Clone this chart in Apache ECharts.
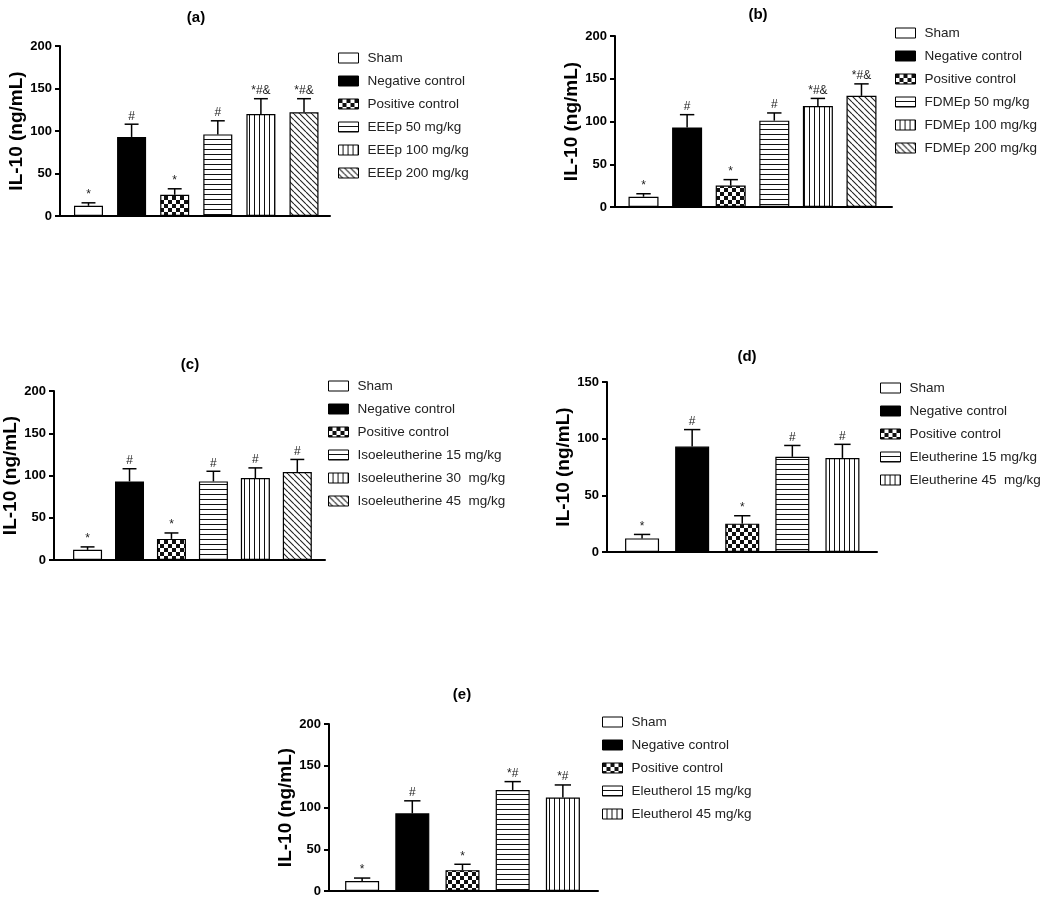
<!DOCTYPE html>
<html style="height: 100%">
<head>
    <meta charset="UTF-8">
    <title>IL-10</title>
    <script src="https://cdn.jsdelivr.net/npm/echarts@6/dist/echarts.min.js"></script>
</head>
<body style="height: 100%; margin: 0; background: #fff">
    <div id="main" style="width: 1052px; height: 898px"></div>
    <script type="text/javascript">
        // data per panel
        const groupsA = ['Sham', 'Negative control', 'Positive control', 'EEEp 50 mg/kg', 'EEEp 100 mg/kg', 'EEEp 200 mg/kg'];
        const valuesA = [12, 93, 25, 96, 120, 122];
        const errorsA = [3.5, 15, 7, 16, 18, 16];
        const marksA = ['*', '#', '*', '#', '*#&', '*#&'];

        const groupsB = ['Sham', 'Negative control', 'Positive control', 'FDMEp 50 mg/kg', 'FDMEp 100 mg/kg', 'FDMEp 200 mg/kg'];
        const valuesB = [12, 93, 25, 101, 118, 130];
        const errorsB = [3.5, 15, 7, 9, 9, 14];
        const marksB = ['*', '#', '*', '#', '*#&', '*#&'];

        const groupsC = ['Sham', 'Negative control', 'Positive control', 'Isoeleutherine 15 mg/kg', 'Isoeleutherine 30  mg/kg', 'Isoeleutherine 45  mg/kg'];
        const valuesC = [12, 93, 25, 93, 97, 104];
        const errorsC = [3.5, 15, 7, 12, 12, 15];
        const marksC = ['*', '#', '*', '#', '#', '#'];

        const groupsD = ['Sham', 'Negative control', 'Positive control', 'Eleutherine 15 mg/kg', 'Eleutherine 45  mg/kg'];
        const valuesD = [12, 93, 25, 84, 83];
        const errorsD = [3.5, 15, 7, 10, 12];
        const marksD = ['*', '#', '*', '#', '#'];

        const groupsE = ['Sham', 'Negative control', 'Positive control', 'Eleutherol 15 mg/kg', 'Eleutherol 45 mg/kg'];
        const valuesE = [12, 93, 25, 121, 112];
        const errorsE = [3.5, 15, 7, 10, 15];
        const marksE = ['*', '#', '*', '*#', '*#'];

        const yMaxes = [200, 200, 200, 150, 200];
        const panelTitles = ['(a)', '(b)', '(c)', '(d)', '(e)'];

        // fill patterns, in group order
        function makePattern(kind) {
            if (kind === 'white') return '#fff';
            if (kind === 'black') return '#000';
            const s = kind === 'checker' ? 8 : (kind === 'diag' ? 6 : 5);
            const c = document.createElement('canvas');
            c.width = s; c.height = s;
            const g = c.getContext('2d');
            g.fillStyle = '#fff';
            g.fillRect(0, 0, s, s);
            g.fillStyle = '#111';
            g.strokeStyle = '#222';
            if (kind === 'checker') {
                g.fillRect(0, 0, 4, 4);
                g.fillRect(4, 4, 4, 4);
            } else if (kind === 'hlines') {
                g.fillRect(0, 4, s, 1);
            } else if (kind === 'vlines') {
                g.fillRect(4, 0, 1, s);
            } else if (kind === 'diag') {
                g.lineWidth = 1.1;
                g.beginPath();
                for (let k = -s; k <= s; k += s) {
                    g.moveTo(k, 0);
                    g.lineTo(k + s, s);
                }
                g.stroke();
            }
            return { image: c, repeat: 'repeat' };
        }
        const fills = ['white', 'black', 'checker', 'hlines', 'vlines', 'diag'].map(makePattern);

        // layout of each panel (pixels)
        const layouts = [
            { grid: { left: 60, top: 46, width: 270, height: 170 }, xr: [-0.661, 5.603], bw: 29, legend: [338, 51], title: [196, 18] },
            { grid: { left: 615, top: 36, width: 277, height: 171 }, xr: [-0.654, 5.70], bw: 30, legend: [895, 26], title: [758, 15] },
            { grid: { left: 47, top: 391, width: 278, height: 169 }, xr: [-0.80, 5.66], bw: 29, legend: [328, 379], title: [190, 365] },
            { grid: { left: 607, top: 382, width: 270, height: 170 }, xr: [-0.70, 4.69], bw: 34, legend: [880, 381], title: [747, 357] },
            { grid: { left: 329, top: 724, width: 269, height: 167 }, xr: [-0.66, 4.70], bw: 34, legend: [602, 715], title: [462, 695] }
        ];

        const panels = [
            [groupsA, valuesA, errorsA, marksA],
            [groupsB, valuesB, errorsB, marksB],
            [groupsC, valuesC, errorsC, marksC],
            [groupsD, valuesD, errorsD, marksD],
            [groupsE, valuesE, errorsE, marksE]
        ];

        const FONT = 'Liberation Sans, Arial, sans-serif';
        const grid = [], xAxis = [], yAxis = [], legend = [], series = [], graphic = [];

        panels.forEach(function (p, k) {
            const groups = p[0], values = p[1], errors = p[2], marks = p[3];
            const L = layouts[k];
            grid.push(Object.assign({ containLabel: false }, L.grid));
            xAxis.push({
                type: 'value', gridIndex: k, min: L.xr[0], max: L.xr[1],
                axisLine: { show: true, lineStyle: { color: '#000', width: 2 } },
                axisTick: { show: false }, axisLabel: { show: false }, splitLine: { show: false }
            });
            yAxis.push({
                type: 'value', gridIndex: k, min: 0, max: yMaxes[k], interval: 50,
                name: 'IL-10 (ng/mL)', nameLocation: 'middle', nameGap: 34,
                nameTextStyle: { fontFamily: FONT, fontWeight: 'bold', fontSize: 19, color: '#000' },
                axisLine: { show: true, onZero: false, lineStyle: { color: '#000', width: 2 } },
                axisTick: { show: true, length: 5, lineStyle: { color: '#000', width: 2 } },
                axisLabel: { fontFamily: FONT, fontWeight: 'bold', fontSize: 13, color: '#000', margin: 8 },
                splitLine: { show: false }
            });
            legend.push({
                orient: 'vertical', left: L.legend[0], top: L.legend[1], padding: 0,
                itemWidth: 20, itemHeight: 10, itemGap: 9, icon: 'rect',
                selectedMode: false,
                itemStyle: { borderWidth: 1 },
                textStyle: { fontFamily: FONT, fontSize: 13.5, color: '#222', padding: [0, 0, 0, 4] },
                data: groups
            });
            groups.forEach(function (name, i) {
                series.push({
                    type: 'bar', name: name, xAxisIndex: k, yAxisIndex: k,
                    barWidth: L.bw, barGap: '-100%',
                    itemStyle: { color: fills[i], borderColor: '#000', borderWidth: 1.2 },
                    data: [[i, values[i]]]
                });
            });
            series.push({
                type: 'custom', name: 'err' + k, xAxisIndex: k, yAxisIndex: k, z: 5,
                data: values.map(function (v, i) { return [i, v, errors[i]]; }),
                renderItem: function (params, api) {
                    const x = api.value(0), v = api.value(1), e = api.value(2);
                    const p0 = api.coord([x, v]);
                    const p1 = api.coord([x, v + e]);
                    const hw = L.bw * 0.24;
                    const ls = { stroke: '#000', lineWidth: 1.5 };
                    return {
                        type: 'group',
                        children: [
                            { type: 'line', shape: { x1: p0[0], y1: p0[1], x2: p1[0], y2: p1[1] }, style: ls },
                            { type: 'line', shape: { x1: p1[0] - hw, y1: p1[1], x2: p1[0] + hw, y2: p1[1] }, style: ls },
                            {
                                type: 'text', x: p1[0], y: p1[1] - 2,
                                style: {
                                    text: marks[params.dataIndex], align: 'center', verticalAlign: 'bottom',
                                    fontFamily: FONT, fontSize: 12, fill: '#222'
                                }
                            }
                        ]
                    };
                }
            });
            graphic.push({
                type: 'text', x: L.title[0], y: L.title[1],
                style: {
                    text: panelTitles[k], align: 'center', verticalAlign: 'middle',
                    fontFamily: FONT, fontWeight: 'bold', fontSize: 15, fill: '#000'
                }
            });
        });

        const myChart = echarts.init(document.getElementById('main'));
        myChart.setOption({
            animation: false,
            backgroundColor: '#fff',
            grid: grid,
            xAxis: xAxis,
            yAxis: yAxis,
            legend: legend,
            graphic: graphic,
            series: series
        });
    </script>
</body>
</html>
